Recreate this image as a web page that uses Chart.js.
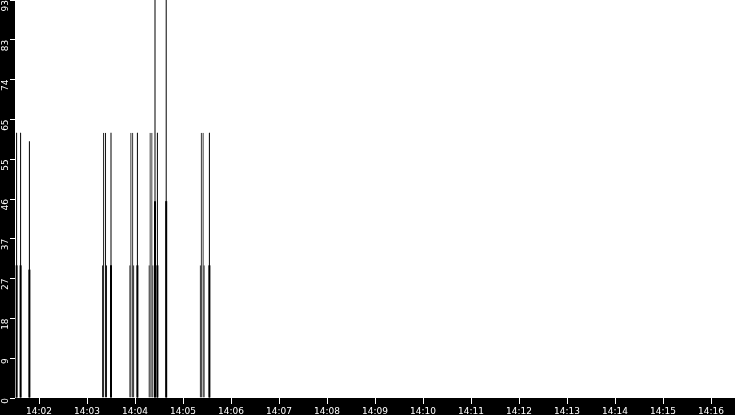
<!DOCTYPE html>
<html>
<head>
<meta charset="utf-8">
<script src="https://cdn.jsdelivr.net/npm/chart.js@4.4.1/dist/chart.umd.min.js"></script>
<style>
  html, body { margin: 0; padding: 0; background: #000; }
  #wrap { width: 735px; height: 415px; }
</style>
</head>
<body>
<div id="wrap"><canvas id="chart"></canvas></div>
<script>
// wide events: drawn as two parallel edges (peak) inside a wider half-height pair of edges
const pairTimes = ['14:03:22', '14:03:56', '14:04:20', '14:05:24'];
const pairPeakValues = [62, 62, 62, 62];
const pairBaseValues = [31, 31, 31, 31];

// short events: single needle with a thicker half-height foot
const spikeTimes = ['14:01:32', '14:01:37', '14:01:48', '14:03:30', '14:04:03',
  '14:04:25', '14:04:28', '14:04:39', '14:05:33'];
const spikePeakValues = [62, 62, 60, 62, 62, 93, 62, 93, 62];
const spikeBaseValues = [31, 31, 30, 31, 31, 46, 31, 46, 31];

const xStart = '14:01:30';
const xEnd = '14:16:30';
const xTickLabels = ['14:02', '14:03', '14:04', '14:05', '14:06', '14:07', '14:08',
  '14:09', '14:10', '14:11', '14:12', '14:13', '14:14', '14:15', '14:16'];
const yTickValues = [0, 9.3, 18.6, 27.9, 37.2, 46.5, 55.8, 65.1, 74.4, 83.7, 93];
const yTickLabels = ['0', '9', '18', '27', '37', '46', '55', '65', '74', '83', '93'];

function toSec(s) {
  const p = s.split(':').map(Number);
  return p[0] * 3600 + p[1] * 60 + (p[2] || 0);
}

function points(times, values) {
  return times.map((t, i) => ({ x: toSec(t), y: values[i] }));
}

const tickFont = { family: 'DejaVu Sans', size: 9 };
const edgesOnly = { left: 1, right: 1, top: 0, bottom: 0 };

// black frame, white plot area
const bgPlugin = {
  id: 'bg',
  beforeDraw(chart) {
    const { ctx, chartArea: a, width, height } = chart;
    ctx.save();
    ctx.fillStyle = '#000';
    ctx.fillRect(0, 0, width, height);
    ctx.fillStyle = '#fff';
    ctx.fillRect(a.left, a.top, a.right - a.left, a.bottom - a.top);
    ctx.restore();
  }
};

new Chart(document.getElementById('chart'), {
  type: 'bar',
  data: {
    datasets: [
      {
        data: points(pairTimes, pairPeakValues),
        backgroundColor: 'rgba(0,0,0,0)',
        borderColor: '#000',
        borderWidth: edgesOnly,
        barThickness: 3
      },
      {
        data: points(pairTimes, pairBaseValues),
        backgroundColor: 'rgba(0,0,0,0)',
        borderColor: '#000',
        borderWidth: edgesOnly,
        barThickness: 5
      },
      {
        data: points(spikeTimes, spikePeakValues),
        backgroundColor: '#000',
        borderWidth: 0,
        barThickness: 1
      },
      {
        data: points(spikeTimes, spikeBaseValues),
        backgroundColor: '#000',
        borderWidth: 0,
        barThickness: 2
      }
    ]
  },
  options: {
    responsive: true,
    maintainAspectRatio: false,
    devicePixelRatio: 1,
    animation: false,
    grouped: false,
    inflateAmount: 0,
    layout: { padding: 0 },
    plugins: { legend: { display: false }, tooltip: { enabled: false } },
    scales: {
      x: {
        type: 'linear',
        min: toSec(xStart),
        max: toSec(xEnd),
        offset: false,
        afterBuildTicks(s) { s.ticks = xTickLabels.map(l => ({ value: toSec(l) })); },
        afterFit(s) { s.height = 17; s.paddingLeft = 0; s.paddingRight = 0; },
        ticks: {
          color: '#fff', font: tickFont, padding: 2, maxRotation: 0, autoSkip: false,
          callback: (v, i) => xTickLabels[i]
        },
        grid: { drawOnChartArea: false, color: '#fff', tickLength: 6, offset: false },
        border: { display: false }
      },
      y: {
        min: 0,
        max: 93,
        afterBuildTicks(s) { s.ticks = yTickValues.map(v => ({ value: v })); },
        afterFit(s) { s.width = 15; s.paddingTop = 0; s.paddingBottom = 0; },
        ticks: {
          color: '#fff', font: tickFont, padding: 4, minRotation: 90, maxRotation: 90, autoSkip: false,
          callback: (v, i) => yTickLabels[i]
        },
        grid: { drawOnChartArea: false, color: '#fff', tickLength: 5 },
        border: { display: false }
      }
    }
  },
  plugins: [bgPlugin]
});
</script>
</body>
</html>
